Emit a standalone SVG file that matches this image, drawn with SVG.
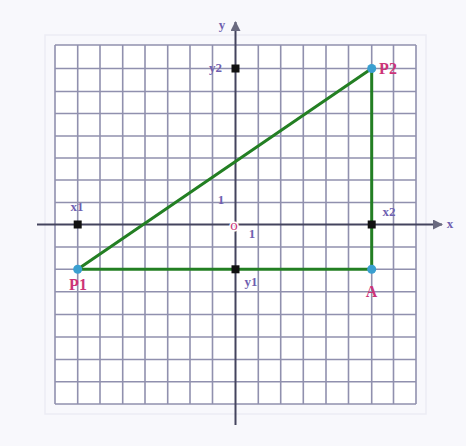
<svg xmlns="http://www.w3.org/2000/svg" width="466" height="446" viewBox="0 0 466 446">
  <style>
    .grid line { stroke: #9090ae; stroke-width: 1.6; }
    .axis { stroke: #44445e; stroke-width: 2; fill: none; }
    .seg { stroke: #237f23; stroke-width: 3; stroke-linecap: round; }
    .mark { fill: #111111; }
    .dot { fill: #3a9fd0; }
    .lbl { font-family: "Liberation Serif", "DejaVu Serif", serif; font-weight: bold; font-size: 13px; fill: #6f5fb0; text-anchor: middle; }
    .pt { font-family: "Liberation Serif", "DejaVu Serif", serif; font-weight: bold; font-size: 16px; fill: #cc3377; text-anchor: middle; }
    .orig { font-family: "Liberation Serif", "DejaVu Serif", serif; font-size: 15px; fill: #cc3377; text-anchor: middle; stroke: #ffffff; stroke-width: 3; paint-order: stroke; }
  </style>
  <defs>
    <marker id="arr" viewBox="0 0 10 10" refX="9" refY="5" markerWidth="5" markerHeight="5" orient="auto">
      <path d="M0,0 L10,5 L0,10 Z" fill="#6a6a80"/>
    </marker>
  </defs>
  <rect x="0" y="0" width="466" height="446" fill="#f8f8fc"/>
  <rect x="45" y="35" width="381" height="379" fill="none" stroke="#ececf4" stroke-width="1.5"/>
  <rect x="55" y="45" width="361" height="359" fill="#ffffff"/>
  <g class="grid">
    <line x1="55" y1="45" x2="55" y2="404"/>
    <line x1="77.7" y1="45" x2="77.7" y2="404"/>
    <line x1="100" y1="45" x2="100" y2="404"/>
    <line x1="122.7" y1="45" x2="122.7" y2="404"/>
    <line x1="145" y1="45" x2="145" y2="404"/>
    <line x1="167.7" y1="45" x2="167.7" y2="404"/>
    <line x1="190" y1="45" x2="190" y2="404"/>
    <line x1="212.5" y1="45" x2="212.5" y2="404"/>
    <line x1="258.3" y1="45" x2="258.3" y2="404"/>
    <line x1="280.7" y1="45" x2="280.7" y2="404"/>
    <line x1="303.3" y1="45" x2="303.3" y2="404"/>
    <line x1="326" y1="45" x2="326" y2="404"/>
    <line x1="348.5" y1="45" x2="348.5" y2="404"/>
    <line x1="371.7" y1="45" x2="371.7" y2="404"/>
    <line x1="393.5" y1="45" x2="393.5" y2="404"/>
    <line x1="416" y1="45" x2="416" y2="404"/>
    <line x1="55" y1="45" x2="416" y2="45"/>
    <line x1="55" y1="68.5" x2="416" y2="68.5"/>
    <line x1="55" y1="91.5" x2="416" y2="91.5"/>
    <line x1="55" y1="113.5" x2="416" y2="113.5"/>
    <line x1="55" y1="136" x2="416" y2="136"/>
    <line x1="55" y1="158" x2="416" y2="158"/>
    <line x1="55" y1="180" x2="416" y2="180"/>
    <line x1="55" y1="202.5" x2="416" y2="202.5"/>
    <line x1="55" y1="247" x2="416" y2="247"/>
    <line x1="55" y1="269.3" x2="416" y2="269.3"/>
    <line x1="55" y1="291.7" x2="416" y2="291.7"/>
    <line x1="55" y1="314.5" x2="416" y2="314.5"/>
    <line x1="55" y1="337" x2="416" y2="337"/>
    <line x1="55" y1="359.5" x2="416" y2="359.5"/>
    <line x1="55" y1="381.7" x2="416" y2="381.7"/>
    <line x1="55" y1="404" x2="416" y2="404"/>
  </g>
  <g id="axes">
    <line class="axis" x1="37" y1="224.5" x2="442" y2="224.5" marker-end="url(#arr)"/>
    <line class="axis" x1="235.5" y1="425" x2="235.5" y2="22" marker-end="url(#arr)"/>
    <text class="lbl" x="450" y="228">x</text>
    <text class="lbl" x="222" y="29">y</text>
    <text class="lbl" x="221" y="204">1</text>
    <text class="lbl" x="252" y="238">1</text>
    <text class="orig" x="234" y="230">o</text>
  </g>
  <g id="connectors">
    <line class="seg" x1="77.7" y1="269.3" x2="371.7" y2="68.5"/>
    <line class="seg" x1="77.7" y1="269.3" x2="371.7" y2="269.3"/>
    <line class="seg" x1="371.7" y1="269.3" x2="371.7" y2="68.5"/>
  </g>
  <g id="x1">
    <rect class="mark" x="73.7" y="220.5" width="8" height="8"/>
    <text class="lbl" x="77" y="211">x1</text>
  </g>
  <g id="x2">
    <rect class="mark" x="367.7" y="220.5" width="8" height="8"/>
    <text class="lbl" x="389" y="216">x2</text>
  </g>
  <g id="y1">
    <rect class="mark" x="231.5" y="265.3" width="8" height="8"/>
    <text class="lbl" x="251" y="286">y1</text>
  </g>
  <g id="y2">
    <rect class="mark" x="231.5" y="64.5" width="8" height="8"/>
    <text class="lbl" x="215.5" y="72">y2</text>
  </g>
  <g id="P1">
    <circle class="dot" cx="77.7" cy="269.3" r="4.5"/>
    <text class="pt" x="78" y="290">P1</text>
  </g>
  <g id="P2">
    <circle class="dot" cx="371.7" cy="68.5" r="4.5"/>
    <text class="pt" x="388" y="74">P2</text>
  </g>
  <g id="A">
    <circle class="dot" cx="371.7" cy="269.3" r="4.5"/>
    <text class="pt" x="371.5" y="297">A</text>
  </g>
</svg>
